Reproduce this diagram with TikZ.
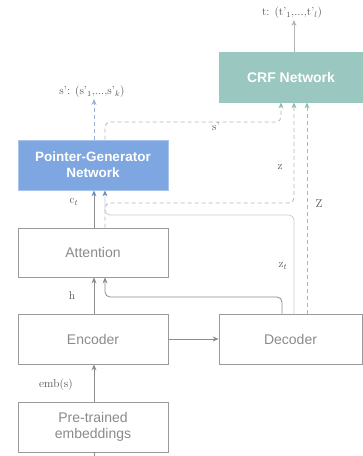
\documentclass[tikz,border=0pt]{standalone}
\usepackage{fontspec}
\newfontfamily\boxfont{Liberation Sans}
\usetikzlibrary{arrows.meta}
\definecolor{boxline}{HTML}{9A9A9A}
\definecolor{boxtext}{HTML}{8A8A8A}
\definecolor{pgnfill}{HTML}{7EA6E0}
\definecolor{pgnline}{HTML}{A9C4EB}
\definecolor{crffill}{HTML}{9AC7BF}
\definecolor{conn}{HTML}{8C8C8C}
\definecolor{dash}{HTML}{B4B4B4}
\definecolor{bluetip}{HTML}{6C8EBF}
\definecolor{teal}{HTML}{8FBDB5}
\definecolor{light}{HTML}{C8CCD6}
\definecolor{lbl}{HTML}{555555}
\tikzset{
  blk/.style={draw=boxline, line width=0.8pt, minimum width=150pt, minimum height=49pt, inner sep=0pt, align=center, font=\boxfont\fontsize{14}{16}\selectfont, text=boxtext},
  pgnbox/.style={blk, fill=pgnfill, draw=pgnline, text=white, font=\boxfont\bfseries\fontsize{13.5}{16}\selectfont},
  crfbox/.style={blk, fill=crffill, draw=crffill, text=white, font=\boxfont\bfseries\fontsize{14}{16}\selectfont},
  lab/.style={text=lbl, font=\fontsize{11.5}{13}\selectfont, inner sep=1pt},
  arr/.style={-{Stealth[length=6pt,width=5pt]}, line width=0.8pt, draw=conn},
  dsh/.style={-{Stealth[length=6pt,width=5pt]}, line width=0.8pt, draw=dash, dashed, dash pattern=on 4pt off 3pt},
}
\begin{document}
\begin{tikzpicture}[x=1pt,y=-1pt]
\useasboundingbox (0,0) rectangle (363,456);
% boxes
\node[pgnbox, minimum width=150pt, minimum height=50pt] (pgn) at (93,165) {Pointer-Generator\\Network};
\node[blk] (att) at (93,252.5) {Attention};
\node[blk, minimum height=50pt] (enc) at (93,339) {Encoder};
\node[blk, minimum height=50pt] (pre) at (93,427) {Pre-trained\\embeddings};
\node[blk, minimum width=143pt, minimum height=50pt] (dec) at (290.5,339) {Decoder};
\node[crfbox, minimum width=144pt, minimum height=50pt] (crf) at (291,77) {CRF Network};
% labels
\node[lab] (tl) at (292,13) {t: (t'$_1$,...,t'$_l$)};
\node[lab] (sl) at (92,92) {s': (s'$_1$,...,s'$_k$)};
\node[lab] (lsp) at (216,127) {s'};
\node[lab] (lz) at (280,167) {z};
\node[lab] (lZ) at (319,204) {Z};
\node[lab] (lzt) at (283,266) {z$_t$};
\node[lab] (lct) at (74,202) {c$_t$};
\node[lab] (lh) at (72,296) {h};
\node[lab] (lemb) at (56,385) {emb(s)};
% helper coordinates
\coordinate (xa) at (94,0);
\coordinate (xb) at (105,0);
\coordinate (xc) at (282,0);
\coordinate (xd) at (294,0);
\coordinate (xe) at (307,0);
\coordinate (xf) at (281,0);
\coordinate (ys) at (0,122);
\coordinate (yz) at (0,203);
\coordinate (yt) at (0,215);
\coordinate (yh) at (0,297);
\coordinate (bot) at (94,456);
% connectors
\draw[arr, -{Stealth[length=6pt,width=5pt,color=bluetip]}] (att.north -| xa) -- (pgn.south -| xa);
\draw[arr] (enc.north -| xa) -- (att.south -| xa);
\draw[arr] (pre.north -| xa) -- (enc.south -| xa);
\draw[arr] (enc.east) -- (dec.west);
\draw[line width=0.8pt, draw=conn] (pre.south -| xa) -- (bot);
\draw[arr, draw=dash] (crf.north -| xd) -- (tl.south -| xd);
\draw[dsh, draw=bluetip!70] (pgn.north -| xa) -- (sl.south -| xa);
\draw[dsh, rounded corners=5pt, -{Stealth[length=6pt,width=5pt,color=teal]}] (pgn.north -| xb) -- (xb |- ys) -- (xf |- ys) -- (crf.south -| xf);
\draw[dsh, rounded corners=5pt, -{Stealth[length=6pt,width=5pt,color=teal]}] (att.north -| xb) -- (xb |- yz) -- (xd |- yz) -- (crf.south -| xd);
\draw[dsh, -{Stealth[length=6pt,width=5pt,color=teal]}] (dec.north -| xe) -- (crf.south -| xe);
\draw[line width=0.8pt, draw=light, rounded corners=5pt, -{Stealth[length=6pt,width=5pt,color=bluetip]}] (dec.north -| xd) -- (xd |- yt) -- (xb |- yt) -- (pgn.south -| xb);
\draw[arr, rounded corners=5pt] (dec.north -| xc) -- (xc |- yh) -- (xb |- yh) -- (att.south -| xb);
\end{tikzpicture}
\end{document}
